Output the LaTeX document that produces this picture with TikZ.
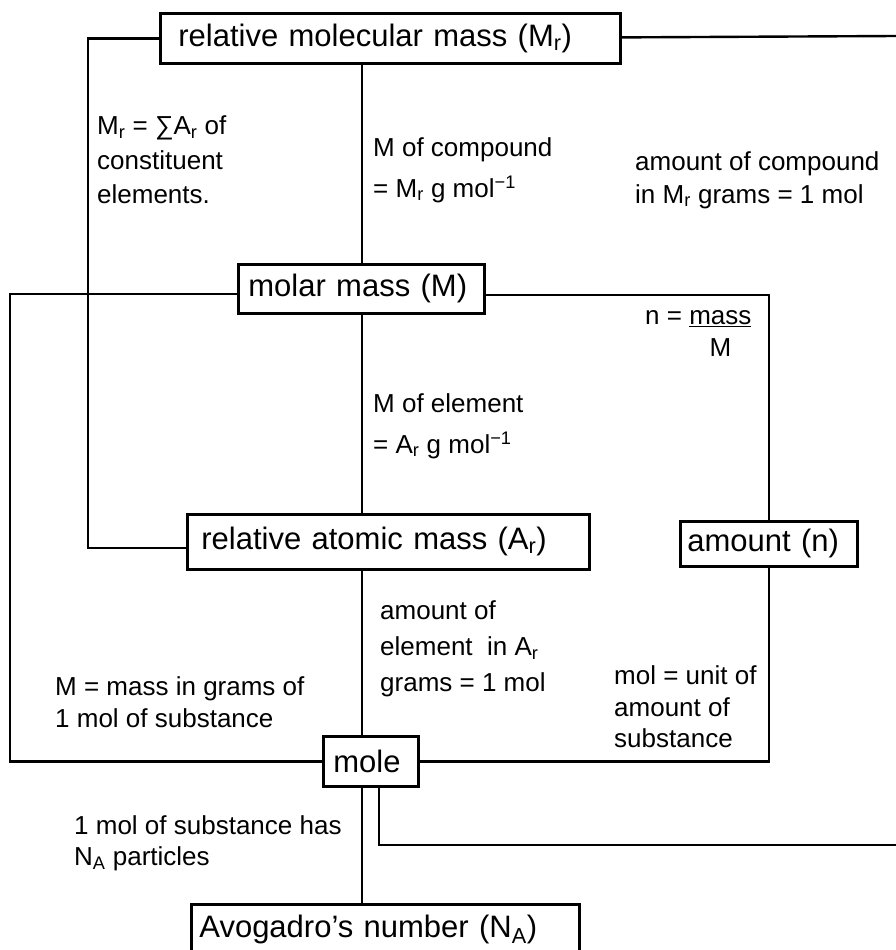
\documentclass[tikz,border=0pt]{standalone}
\usepackage{fontspec}
\setmainfont{Liberation Sans}
\usetikzlibrary{positioning}
\tikzset{
  box/.style={rectangle,draw,line width=2.8pt,anchor=north west,align=left,inner ysep=0pt,font=\fontsize{31}{36}\selectfont},
  note/.style={align=left,inner sep=0pt,anchor=west,font=\fontsize{26}{#1}\selectfont},
  note/.default=32,
  line/.style={line width=2.4pt}
}

\begin{document}
\begin{tikzpicture}[x=1pt,y=-1pt]
\useasboundingbox (0,0) rectangle (896,950);
\node[box, minimum width=460pt, minimum height=50pt, inner xsep=18pt, text width=424pt] (mr) at (159,12) {relative molecular mass (M\textsubscript{r})};
\node[box, minimum width=246pt, minimum height=49pt, inner xsep=10pt, text width=226pt] (mm) at (237,263) {molar mass (M)};
\node[box, minimum width=402pt, minimum height=55pt, inner xsep=14pt, text width=374pt] (ar) at (186,513) {relative atomic mass (A\textsubscript{r})};
\node[box, minimum width=177pt, minimum height=45pt, inner xsep=7pt, text width=163pt] (amt) at (679,520) {amount (n)};
\node[box, minimum width=95pt, minimum height=50pt, inner xsep=10pt, text width=75pt] (mole) at (322,735) {mole};
\node[box, minimum width=388pt, minimum height=50pt, inner xsep=8pt, text width=372pt] (avo) at (190,903) {Avogadro’s number (N\textsubscript{A})};
\coordinate (spine) at (362,0);
\coordinate (tail) at (379,0);
\coordinate (edgetop) at (896,36);
\coordinate (edgelow) at (896,845);
\node[note=34.5] (lsum) at (97,160) {M\textsubscript{r} = ∑A\textsubscript{r} of\\constituent\\elements.};
\node[note=41] (lcomp) at (373,170) {M of compound\\= M\textsubscript{r} g mol\textsuperscript{−1}};
\node[note=33] (lamtc) at (635,180) {amount of compound\\in M\textsubscript{r} grams = 1 mol};
\node[note] (lfrac) at (645,334) {n = \begin{tabular}[t]{@{}c@{}}\underline{mass}\\M\end{tabular}};
\node[note=41] (lelem) at (373,426) {M of element\\= A\textsubscript{r} g mol\textsuperscript{−1}};
\node[note=36] (lamte) at (380,649) {amount of\\element\ \ in A\textsubscript{r}\\grams = 1 mol};
\node[note] (lmass) at (55,702) {M = mass in grams of\\1 mol of substance};
\node[note=31.5] (lunit) at (614,707) {mol = unit of\\amount of\\substance};
\node[note=31] (lavo) at (74,843) {1 mol of substance has\\N\textsubscript{A} particles};
\draw[line] (mr.west) -- ++(-71,0) |- ([yshift=-6pt]ar.west);
\draw[line] ([yshift=1pt]mr.east) -- (edgetop);
\draw[line] (mr.south -| spine) -- (mm.north -| spine);
\draw[line] ([yshift=-5pt]mm.west) -- ++(-227,0) |- (mole.west);
\draw[line] ([yshift=-6pt]mm.east) -| (amt.north);
\draw[line] (mm.south -| spine) -- (ar.north -| spine);
\draw[line] (ar.south -| spine) -- (mole.north -| spine);
\draw[line] (amt.south) |- (mole.east);
\draw[line] (mole.south -| spine) -- (avo.north -| spine);
\draw[line] (mole.south -| tail) |- (edgelow);
\end{tikzpicture}
\end{document}
